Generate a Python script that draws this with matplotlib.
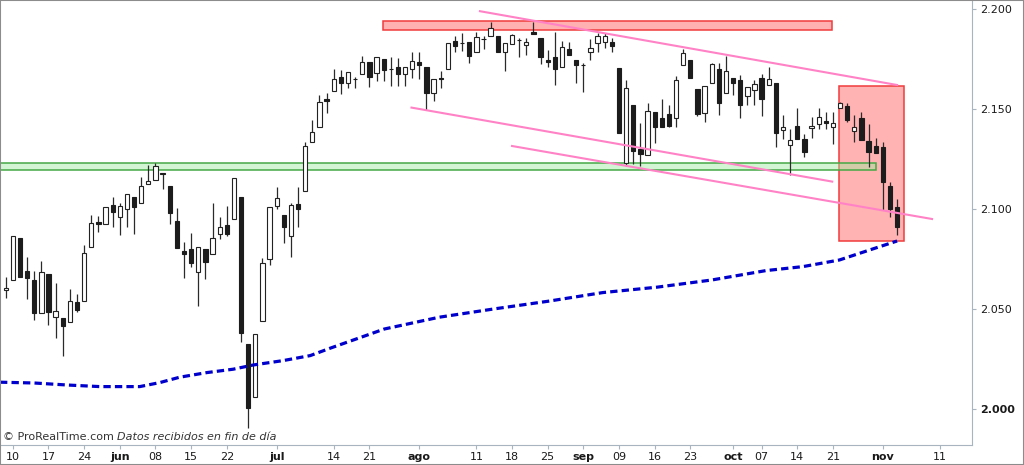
import numpy as np
import matplotlib
matplotlib.use("Agg")
import matplotlib.pyplot as plt
from matplotlib.patches import Rectangle

# daily candles (open, high, low, close)
opens = [2.0594, 2.0645, 2.0854, 2.0690, 2.0645, 2.0479, 2.0674, 2.0459, 2.0454, 2.0434,
         2.0534, 2.0540, 2.0809, 2.0937, 2.0924, 2.1020, 2.0962, 2.0999, 2.1062, 2.1029,
         2.1124, 2.1145, 2.1182, 2.1117, 2.0942, 2.0792, 2.0799, 2.0684, 2.0800, 2.0774,
         2.0874, 2.0920, 2.0949, 2.1059, 2.0325, 2.0062, 2.0442, 2.0750, 2.1015, 2.0970,
         2.0865, 2.1025, 2.1092, 2.1334, 2.1412, 2.1550, 2.1590, 2.1662, 2.1632, 2.1651,
         2.1674, 2.1737, 2.1679, 2.1749, 2.1701, 2.1709, 2.1674, 2.1699, 2.1737, 2.1709,
         2.1582, 2.1654, 2.1699, 2.1842, 2.1829, 2.1834, 2.1787, 2.1849, 2.1865, 2.1865,
         2.1784, 2.1825, 2.1846, 2.1820, 2.1884, 2.1857, 2.1745, 2.1759, 2.1712, 2.1800,
         2.1745, 2.1721, 2.1784, 2.1829, 2.1835, 2.1837, 2.1704, 2.1229, 2.1520, 2.1299,
         2.1270, 2.1484, 2.1457, 2.1475, 2.1457, 2.1720, 2.1745, 2.1600, 2.1479, 2.1632,
         2.1700, 2.1579, 2.1654, 2.1645, 2.1565, 2.1595, 2.1654, 2.1620, 2.1629, 2.1395,
         2.1320, 2.1415, 2.1350, 2.1404, 2.1425, 2.1442, 2.1412, 2.1504, 2.1515, 2.1392,
         2.1457, 2.1340, 2.1317, 2.1309, 2.1115, 2.1009]
highs = [2.0662, 2.0865, 2.0854, 2.0762, 2.0690, 2.0740, 2.0674, 2.0629, 2.0454, 2.0600,
         2.0575, 2.0820, 2.0970, 2.0965, 2.1012, 2.1059, 2.1029, 2.1075, 2.1062, 2.1159,
         2.1220, 2.1229, 2.1182, 2.1117, 2.1004, 2.0837, 2.0882, 2.0812, 2.0800, 2.1032,
         2.0959, 2.1017, 2.1154, 2.1059, 2.0325, 2.0374, 2.0754, 2.1012, 2.1109, 2.0970,
         2.1029, 2.1112, 2.1337, 2.1445, 2.1570, 2.1579, 2.1699, 2.1695, 2.1684, 2.1662,
         2.1767, 2.1737, 2.1759, 2.1749, 2.1762, 2.1757, 2.1712, 2.1787, 2.1787, 2.1709,
         2.1649, 2.1692, 2.1832, 2.1865, 2.1882, 2.1834, 2.1887, 2.1865, 2.1937, 2.1865,
         2.1829, 2.1875, 2.1854, 2.1854, 2.1937, 2.1857, 2.1795, 2.1884, 2.1842, 2.1837,
         2.1745, 2.1729, 2.1849, 2.1879, 2.1880, 2.1855, 2.1704, 2.1645, 2.1520, 2.1429,
         2.1529, 2.1484, 2.1550, 2.1520, 2.1665, 2.1799, 2.1745, 2.1600, 2.1615, 2.1732,
         2.1732, 2.1765, 2.1654, 2.1670, 2.1612, 2.1645, 2.1675, 2.1712, 2.1629, 2.1470,
         2.1399, 2.1504, 2.1375, 2.1462, 2.1504, 2.1487, 2.1487, 2.1537, 2.1532, 2.1470,
         2.1487, 2.1424, 2.1354, 2.1334, 2.1137, 2.1049]
lows = [2.0557, 2.0645, 2.0662, 2.0549, 2.0445, 2.0479, 2.0420, 2.0357, 2.0267, 2.0434,
        2.0487, 2.0540, 2.0809, 2.0887, 2.0924, 2.0909, 2.0870, 2.0909, 2.0874, 2.1029,
        2.1124, 2.1145, 2.1099, 2.0924, 2.0807, 2.0657, 2.0712, 2.0517, 2.0649, 2.0774,
        2.0849, 2.0865, 2.0949, 2.0334, 1.9907, 2.0062, 2.0442, 2.0720, 2.0999, 2.0829,
        2.0759, 2.0912, 2.1092, 2.1334, 2.1412, 2.1479, 2.1590, 2.1574, 2.1604, 2.1604,
        2.1674, 2.1609, 2.1640, 2.1640, 2.1615, 2.1615, 2.1615, 2.1654, 2.1649, 2.1495,
        2.1542, 2.1604, 2.1699, 2.1784, 2.1792, 2.1729, 2.1787, 2.1799, 2.1865, 2.1787,
        2.1692, 2.1825, 2.1762, 2.1770, 2.1874, 2.1724, 2.1709, 2.1620, 2.1712, 2.1770,
        2.1632, 2.1587, 2.1745, 2.1787, 2.1805, 2.1784, 2.1382, 2.1215, 2.1225, 2.1215,
        2.1270, 2.1329, 2.1409, 2.1409, 2.1409, 2.1720, 2.1653, 2.1465, 2.1437, 2.1632,
        2.1470, 2.1579, 2.1570, 2.1454, 2.1520, 2.1520, 2.1465, 2.1620, 2.1312, 2.1349,
        2.1170, 2.1349, 2.1262, 2.1354, 2.1399, 2.1399, 2.1324, 2.1504, 2.1437, 2.1337,
        2.1345, 2.1209, 2.1279, 2.0995, 2.0962, 2.0870]
closes = [2.0607, 2.0865, 2.0662, 2.0657, 2.0482, 2.0684, 2.0487, 2.0492, 2.0415, 2.0540,
          2.0495, 2.0779, 2.0929, 2.0924, 2.1012, 2.0987, 2.1017, 2.1075, 2.1012, 2.1115,
          2.1142, 2.1217, 2.1174, 2.0979, 2.0807, 2.0774, 2.0732, 2.0812, 2.0734, 2.0854,
          2.0909, 2.0875, 2.1154, 2.0382, 2.0004, 2.0374, 2.0729, 2.1012, 2.1054, 2.0909,
          2.1020, 2.0999, 2.1317, 2.1387, 2.1537, 2.1542, 2.1649, 2.1632, 2.1684, 2.1649,
          2.1737, 2.1662, 2.1759, 2.1695, 2.1699, 2.1675, 2.1712, 2.1742, 2.1720, 2.1582,
          2.1649, 2.1649, 2.1832, 2.1817, 2.1828, 2.1767, 2.1859, 2.1848, 2.1904, 2.1787,
          2.1829, 2.1870, 2.1845, 2.1834, 2.1874, 2.1762, 2.1734, 2.1699, 2.1812, 2.1770,
          2.1720, 2.1719, 2.1804, 2.1867, 2.1865, 2.1817, 2.1382, 2.1604, 2.1290, 2.1275,
          2.1490, 2.1409, 2.1409, 2.1415, 2.1645, 2.1779, 2.1657, 2.1475, 2.1615, 2.1725,
          2.1529, 2.1692, 2.1629, 2.1520, 2.1612, 2.1624, 2.1549, 2.1649, 2.1382, 2.1412,
          2.1345, 2.1349, 2.1287, 2.1417, 2.1459, 2.1432, 2.1429, 2.1529, 2.1445, 2.1412,
          2.1345, 2.1284, 2.1279, 2.1137, 2.1000, 2.0909]

# moving average (blue dashed), read at sample bars
ma_bar = [-0.8, 4.0, 8.6, 13.2, 18.8, 21.6, 24.4, 28.2, 31.9, 34.7, 38.9, 42.7, 45.5,
          53.1, 60.8, 68.4, 76.1, 83.7, 91.3, 99.0, 106.6, 111.8, 116.9, 121.9, 125.0]
ma_val = [2.0134, 2.0130, 2.0120, 2.0112, 2.0112, 2.0132, 2.0159, 2.0182, 2.0199, 2.0220,
          2.0242, 2.0267, 2.0304, 2.0400, 2.0459, 2.0500, 2.0539, 2.0582, 2.0609, 2.0645,
          2.0692, 2.0712, 2.0745, 2.0804, 2.0840]

# drawn trend lines (bar, price) pairs
trend_lines = [((66.5, 2.1989), (125.0, 2.1620)),
               ((56.9, 2.1507), (115.9, 2.1137)),
               ((71.0, 2.1315), (129.9, 2.0950))]

# boxes: (bar_from, bar_to, price_low, price_high)
top_box = (52.9, 115.9, 2.1895, 2.1942)
green_band = (-0.8, 122.0, 2.1197, 2.1232)
red_box = (116.9, 126.0, 2.0842, 2.1615)

tick_pos = [1, 6, 11, 16, 21, 26, 31, 38, 46, 51, 58, 66, 71, 76, 81, 86, 91, 96,
            102, 106, 111, 116, 123, 131]
tick_lab = ['10', '17', '24', 'jun', '08', '15', '22', 'jul', '14', '21', 'ago', '11',
            '18', '25', 'sep', '09', '16', '23', 'oct', '07', '14', '21', 'nov', '11']
months = {'jun', 'jul', 'ago', 'sep', 'oct', 'nov'}
y_ticks = [2.000, 2.050, 2.100, 2.150, 2.200]

fig = plt.figure(figsize=(10.24, 4.65), dpi=100)
ax = fig.add_axes([1 / 1024, 20 / 465, 971 / 1024, 444 / 465])
ax.set_xlim(-0.66, 135.5)
ax.set_ylim(1.982, 2.204)

# boxes behind the candles
def box(spec, face, edge, z):
    x0, x1, y0, y1 = spec
    ax.add_patch(Rectangle((x0, y0), x1 - x0, y1 - y0, facecolor=face,
                           edgecolor=edge, lw=1.1, zorder=z))

box(top_box, '#ffb0b0', '#f03c3c', 1)
box(red_box, '#ffb3b3', '#f03c3c', 1)
box(green_band, (0.62, 0.92, 0.62, 0.45), '#45a845', 2)

# candles
o = np.array(opens)
h = np.array(highs)
l = np.array(lows)
c = np.array(closes)
x = np.arange(len(o))
up = c >= o
ax.vlines(x, l, h, color='#2a2a2a', lw=0.9, zorder=3)
ax.bar(x[up], c[up] - o[up], bottom=o[up], width=0.6, color='white',
       edgecolor='#222222', lw=0.8, zorder=4)
ax.bar(x[~up], o[~up] - c[~up], bottom=c[~up], width=0.6, color='#1c1c1c',
       edgecolor='#1c1c1c', lw=0.8, zorder=4)

# trend lines and moving average
for (x0, y0), (x1, y1) in trend_lines:
    ax.plot([x0, x1], [y0, y1], color='#ff82c6', lw=1.5, zorder=5)
ax.plot(ma_bar, ma_val, color='#0000cc', lw=2.3, dashes=(2.3, 1.3),
        dash_capstyle='butt', zorder=5)

# axes styling
for side in ['top', 'left']:
    ax.spines[side].set_visible(False)
for side in ['right', 'bottom']:
    ax.spines[side].set_color('#a8b4bf')
ax.yaxis.tick_right()
ax.set_yticks(y_ticks)
ax.set_yticklabels(['%.3f' % v for v in y_ticks])
ax.set_xticks(tick_pos)
ax.set_xticklabels(tick_lab)
ax.tick_params(axis='both', colors='#a8b4bf', labelcolor='#1a1a1a', labelsize=8,
               length=3, width=0.8)
ax.tick_params(axis='x', pad=2)
ax.tick_params(axis='y', pad=3)
for t in ax.get_xticklabels():
    if t.get_text() in months:
        t.set_fontweight('bold')
for t in ax.get_yticklabels():
    if t.get_text() == '2.000':
        t.set_fontweight('bold')

t1 = ax.text(2 / 971, 8 / 444, '\u00a9 ProRealTime.com ', transform=ax.transAxes,
             fontsize=8, color='#333333', va='center', ha='left', zorder=6)
ax.annotate('Datos recibidos en fin de d\u00eda', xy=(1, 0.5), xycoords=t1,
            fontsize=8, color='#333333', style='italic', va='center', ha='left')

# outer frame of the image
fig.add_artist(Rectangle((0, 0), 1, 1, transform=fig.transFigure, fill=False,
                         edgecolor='#8c8c8c', lw=1.5))

fig.savefig('out.png', dpi=100)
